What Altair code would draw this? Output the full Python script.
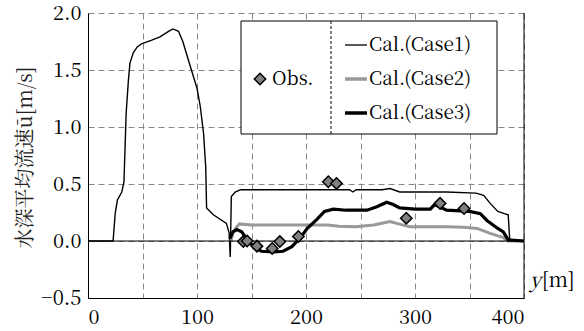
import altair as alt
import pandas as pd

case1_x = [0, 23, 25, 27, 31, 33, 35, 37, 38.5, 41.5, 45, 49, 58, 66, 75, 78, 83, 87, 92, 100, 103, 106, 108, 108.8, 115, 127, 129.5, 130.5, 131.5, 135, 140, 200, 240, 243, 246, 270, 277, 286, 304, 329, 356, 363, 369, 376, 382, 385.5, 387, 400]
case1_y = [0, 0, 0.245, 0.36, 0.43, 0.52, 1.12, 1.40, 1.56, 1.65, 1.70, 1.73, 1.76, 1.79, 1.845, 1.86, 1.84, 1.75, 1.59, 1.34, 1.18, 0.945, 0.65, 0.29, 0.23, 0.155, 0.07, -0.14, 0.39, 0.43, 0.45, 0.45, 0.45, 0.43, 0.45, 0.45, 0.46, 0.43, 0.43, 0.43, 0.42, 0.40, 0.33, 0.26, 0.24, 0.23, 0, 0]

case2_x = [131, 133, 136, 139, 150, 200, 220, 230, 246, 262, 274, 277, 285, 295, 329, 345, 357, 369, 381, 385, 400]
case2_y = [0.0, 0.07, 0.12, 0.15, 0.14, 0.14, 0.14, 0.13, 0.125, 0.14, 0.165, 0.17, 0.15, 0.125, 0.125, 0.12, 0.11, 0.067, 0.03, 0, 0]

case3_x = [130, 133, 136.5, 141, 147, 153, 159, 170, 179, 187, 195, 201, 210, 217, 225, 237, 256, 265, 274, 280, 286, 300, 314, 318, 329, 350, 360, 366, 376, 381, 385.5, 400]
case3_y = [0.02, 0.08, 0.10, 0.08, 0.0, -0.06, -0.09, -0.095, -0.09, -0.05, 0.03, 0.11, 0.19, 0.26, 0.28, 0.27, 0.27, 0.30, 0.34, 0.32, 0.29, 0.28, 0.28, 0.32, 0.27, 0.26, 0.24, 0.18, 0.11, 0.08, 0.01, 0.0]

obs_x = [142.5, 146, 155, 169, 176, 193, 220.5, 228, 292, 323, 345]
obs_y = [-0.005, 0.0, -0.045, -0.065, -0.005, 0.04, 0.52, 0.505, 0.20, 0.33, 0.285]

legend_labels = ["Cal.(Case1)", "Cal.(Case2)", "Cal.(Case3)"]
obs_label = "Obs."
y_title = "水深平均流速ū[m/s]"

W, H = 436, 285
SERIF = "Noto Serif CJK JP"

xs = alt.Scale(domain=[0, 400], nice=False)
ys = alt.Scale(domain=[-0.5, 2.0], nice=False)

xaxis = alt.Axis(values=list(range(0, 401, 50)), labelExpr="datum.value % 100 == 0 ? datum.label : ''",
                 grid=True, gridDash=[6, 4], gridColor="#888888", gridWidth=1, ticks=False,
                 domainColor="black", domainWidth=1, labelFont=SERIF, labelFontSize=20,
                 labelColor="black", labelPadding=9, title=None)
yaxis = alt.Axis(values=[-0.5, 0, 0.5, 1.0, 1.5, 2.0], format=".1f",
                 grid=True, gridDash=[6, 4], gridColor="#888888", gridWidth=1, ticks=False,
                 domainColor="black", domainWidth=1, labelFont=SERIF, labelFontSize=20,
                 labelColor="black", labelPadding=7, title=y_title,
                 titleFont=SERIF, titleFontSize=20, titleFontWeight="normal",
                 titleColor="#222222", titleX=-63, titleY=144, titleAlign="center", titleBaseline="middle")


def line_df(x, y):
    return pd.DataFrame({"x": x, "y": y})


c1 = alt.Chart(line_df(case1_x, case1_y)).mark_line(color="black", strokeWidth=1.4).encode(
    x=alt.X("x:Q", scale=xs, axis=xaxis), y=alt.Y("y:Q", scale=ys, axis=yaxis))
c2 = alt.Chart(line_df(case2_x, case2_y)).mark_line(color="#999999", strokeWidth=3).encode(
    x=alt.X("x:Q", scale=xs), y=alt.Y("y:Q", scale=ys))
c3 = alt.Chart(line_df(case3_x, case3_y)).mark_line(color="black", strokeWidth=3.2).encode(
    x=alt.X("x:Q", scale=xs), y=alt.Y("y:Q", scale=ys))
obs = alt.Chart(line_df(obs_x, obs_y)).mark_point(shape="diamond", filled=True, fill="#808080",
                                                  stroke="black", strokeWidth=1.5, size=130, opacity=1).encode(
    x=alt.X("x:Q", scale=xs), y=alt.Y("y:Q", scale=ys))

one = pd.DataFrame({"a": [0]})
zero = alt.Chart(one).mark_rule(color="black", strokeWidth=1).encode(
    y=alt.Y("z:Q", scale=ys)).transform_calculate(z="0")
right = alt.Chart(one).mark_rule(color="black", strokeWidth=1).encode(
    x=alt.value(W), y=alt.value(0), y2=alt.value(H))

lx0, lx1, ly0, ly1 = 153, 409, 8, 121
box = alt.Chart(one).mark_rect(fill="white", stroke="black", strokeWidth=1).encode(
    x=alt.value(lx0), x2=alt.value(lx1), y=alt.value(ly0), y2=alt.value(ly1))
div = alt.Chart(one).mark_rule(color="black", strokeWidth=1, strokeDash=[3, 2]).encode(
    x=alt.value(243), y=alt.value(ly0), y2=alt.value(ly1))
leg_obs_pt = alt.Chart(one).mark_point(shape="diamond", filled=True, fill="#808080", stroke="black",
                                       strokeWidth=1.5, size=130, opacity=1).encode(
    x=alt.value(172), y=alt.value(66))
leg_obs_txt = alt.Chart(one).mark_text(font=SERIF, fontSize=19, align="left", baseline="middle", color="black").encode(
    x=alt.value(184), y=alt.value(66), text=alt.value(obs_label))

rows_y = [32, 66, 100]
styles = [("black", 1.3), ("#999999", 3.5), ("black", 3.5)]
leg_layers = []
for lab, ry, (col, sw) in zip(legend_labels, rows_y, styles):
    leg_layers.append(alt.Chart(one).mark_rule(color=col, strokeWidth=sw).encode(
        x=alt.value(257), x2=alt.value(279), y=alt.value(ry)))
    leg_layers.append(alt.Chart(one).mark_text(font=SERIF, fontSize=19, align="left", baseline="middle", color="black").encode(
        x=alt.value(281), y=alt.value(ry), text=alt.value(lab)))

ylab1 = alt.Chart(one).mark_text(font=SERIF, fontSize=20, fontStyle="italic", align="left", baseline="middle", color="black").encode(
    x=alt.value(442), y=alt.value(268), text=alt.value("y"))
ylab2 = alt.Chart(one).mark_text(font=SERIF, fontSize=20, align="left", baseline="middle", color="black").encode(
    x=alt.value(454), y=alt.value(268), text=alt.value("[m]"))

chart = alt.layer(c1, c2, c3, zero, right, box, div, leg_obs_pt, leg_obs_txt, *leg_layers, obs, ylab1, ylab2).properties(
    width=W, height=H, autosize="none", background="white",
    padding={"left": 88, "top": 13, "right": 60, "bottom": 33},
).configure_view(stroke=None)

chart.save("out.html", embed_options={"renderer": "svg", "actions": False})
